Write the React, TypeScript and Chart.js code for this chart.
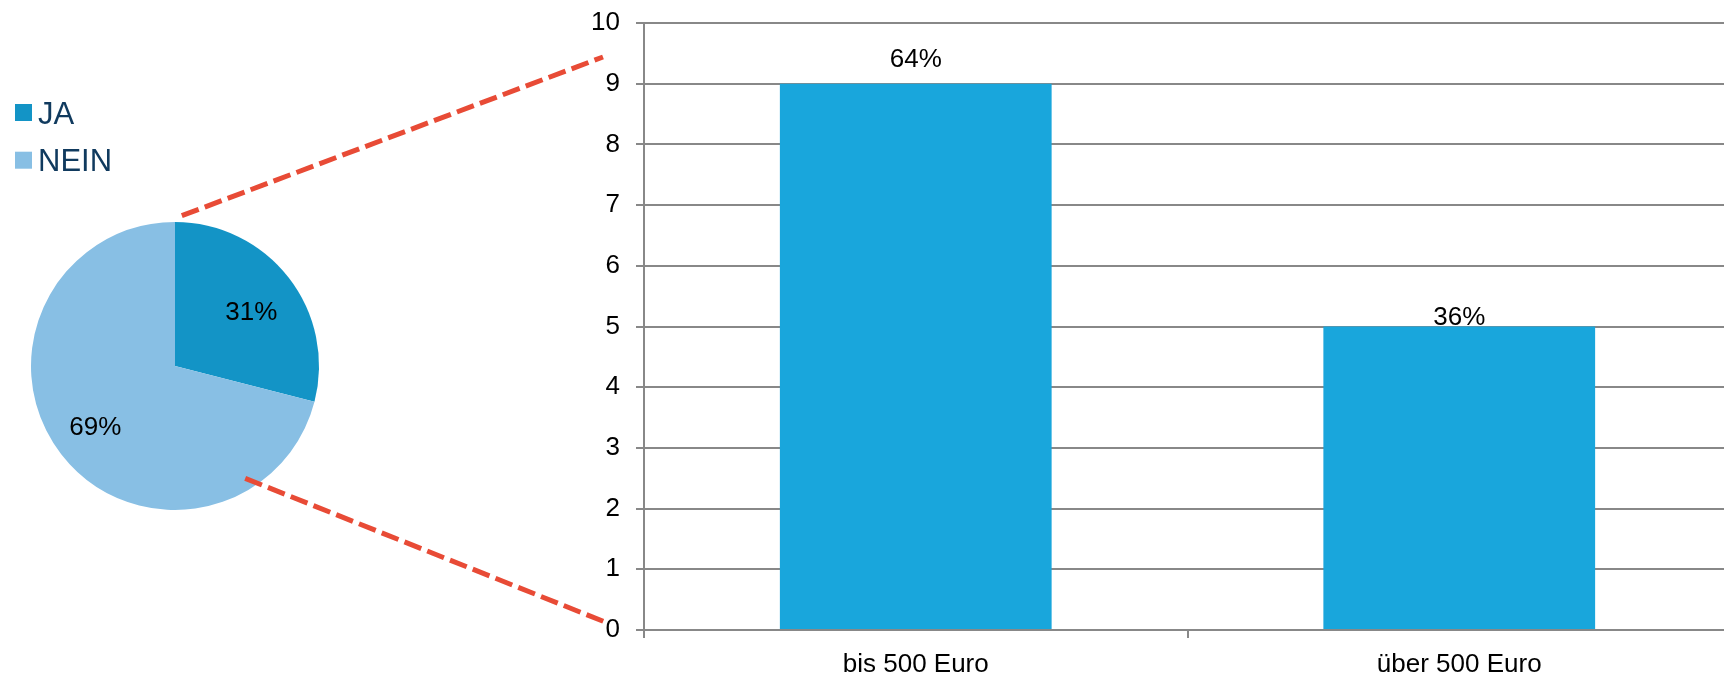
import React, { useEffect, useRef } from 'react';
import { Chart, registerables } from 'chart.js';

Chart.register(...registerables);

// ---- data ----
const pieLabels = ['JA', 'NEIN'];
const pieValues = [29, 71];
const pieValueLabels = ['31%', '69%'];
const pieColors = ['#1394c6', '#88bfe4'];

const barCategories = ['bis 500 Euro', 'über 500 Euro'];
const barValues = [9, 5];
const barColor = '#19a6dc';
const yMin = 0;
const yMax = 10;
const yStep = 1;

const FONT = '"Liberation Sans", Arial, Helvetica, sans-serif';

const piePlugin = {
  id: 'pieExtras',
  afterDraw(chart: any) {
    const ctx = chart.ctx;
    const meta = chart.getDatasetMeta(0);
    const colors = chart.data.datasets[0].backgroundColor as string[];
    ctx.save();
    // legend
    const labels = chart.data.labels as string[];
    labels.forEach((lab, i) => {
      const top = 104 + i * 47.7;
      ctx.fillStyle = colors[i];
      ctx.fillRect(15, top, 17, 17);
      ctx.fillStyle = '#103a5e';
      ctx.font = `31px ${FONT}`;
      ctx.textAlign = 'left';
      ctx.textBaseline = 'alphabetic';
      ctx.fillText(lab, 38, top + 8.5 + 11.2);
    });
    // slice labels
    const factors = [0.67, 0.7];
    const dy = [6, 0];
    meta.data.forEach((arc: any, i: number) => {
      const p = arc.getProps(['x', 'y', 'startAngle', 'endAngle', 'outerRadius'], true);
      const mid = (p.startAngle + p.endAngle) / 2;
      const r = p.outerRadius * factors[i];
      ctx.fillStyle = '#000';
      ctx.font = `26px ${FONT}`;
      ctx.textAlign = 'center';
      ctx.textBaseline = 'middle';
      ctx.fillText(pieValueLabels[i], p.x + Math.cos(mid) * r, p.y + Math.sin(mid) * r + dy[i]);
    });
    // connector dashed lines
    const a0: any = meta.data[0].getProps(['x', 'y', 'outerRadius'], true);
    const cx = a0.x, cy = a0.y, R = a0.outerRadius;
    const pt = (degFromTop: number, f: number) => {
      const a = (degFromTop - 90) * Math.PI / 180;
      return [cx + Math.cos(a) * R * f, cy + Math.sin(a) * R * f];
    };
    const s1 = pt(2.6, 1.045);
    const s2 = pt(148, 0.92);
    ctx.strokeStyle = '#e84b36';
    ctx.lineWidth = 5;
    ctx.setLineDash([18, 6.5]);
    ctx.lineCap = 'butt';
    ctx.beginPath();
    ctx.moveTo(s1[0], s1[1]);
    ctx.lineTo(603, 57);
    ctx.stroke();
    ctx.beginPath();
    ctx.moveTo(s2[0], s2[1]);
    ctx.lineTo(605, 622);
    ctx.stroke();
    ctx.restore();
  },
};

const barLabelPlugin = {
  id: 'barLabels',
  afterDatasetsDraw(chart: any) {
    const ctx = chart.ctx;
    const meta = chart.getDatasetMeta(0);
    const vals = chart.data.datasets[0].data as number[];
    const sum = vals.reduce((a, b) => a + b, 0);
    const gaps = [17, 2];
    ctx.save();
    ctx.fillStyle = '#000';
    ctx.font = `26px ${FONT}`;
    ctx.textAlign = 'center';
    ctx.textBaseline = 'alphabetic';
    meta.data.forEach((bar: any, i: number) => {
      const txt = Math.round((vals[i] / sum) * 100) + '%';
      ctx.fillText(txt, bar.x, bar.y - gaps[i]);
    });
    ctx.restore();
  },
};

export default function App() {
  const barRef = useRef<HTMLCanvasElement>(null);
  const pieRef = useRef<HTMLCanvasElement>(null);

  useEffect(() => {
    Chart.defaults.font.family = FONT;
    const bar = new Chart(barRef.current!, {
      type: 'bar',
      data: {
        labels: barCategories,
        datasets: [{ data: barValues, backgroundColor: barColor, borderWidth: 0, barPercentage: 1, categoryPercentage: 0.5 }],
      },
      options: {
        responsive: false,
        animation: false,
        layout: { padding: { top: 23, left: 0, right: 0, bottom: 0 } },
        plugins: { legend: { display: false }, tooltip: { enabled: false } },
        scales: {
          x: {
            grid: { offset: true, drawOnChartArea: false, color: '#888', lineWidth: 2, tickLength: 8 },
            border: { color: '#888', width: 2 },
            ticks: { color: '#000', font: { size: 26, family: FONT }, padding: 11 },
            afterFit: (s: any) => { s.height = 45; },
          },
          y: {
            min: yMin,
            max: yMax,
            grid: { color: '#888', lineWidth: 2, tickLength: 8 },
            border: { color: '#888', width: 2 },
            ticks: { stepSize: yStep, color: '#000', font: { size: 26, family: FONT }, padding: 16 },
            afterFit: (s: any) => {
              s.width = 84;
              s.paddingTop = 0;
              s.paddingBottom = 0;
            },
          },
        },
      },
      plugins: [barLabelPlugin],
    });
    const pie = new Chart(pieRef.current!, {
      type: 'pie',
      data: {
        labels: pieLabels,
        datasets: [{ data: pieValues, backgroundColor: pieColors, borderWidth: 0 }],
      },
      options: {
        responsive: false,
        animation: false,
        layout: { padding: { left: 31, top: 222, right: 301, bottom: 165 } },
        plugins: { legend: { display: false }, tooltip: { enabled: false } },
      },
      plugins: [piePlugin],
    });
    return () => {
      bar.destroy();
      pie.destroy();
    };
  }, []);

  return (
    <div style={{ position: 'fixed', left: 0, top: 0, width: 1724, height: 675, overflow: 'hidden', background: '#fff' }}>
      <canvas ref={barRef} width={1171} height={675} style={{ position: 'absolute', left: 560, top: 0, width: 1171, height: 675 }} />
      <canvas ref={pieRef} width={620} height={675} style={{ position: 'absolute', left: 0, top: 0, width: 620, height: 675 }} />
    </div>
  );
}
